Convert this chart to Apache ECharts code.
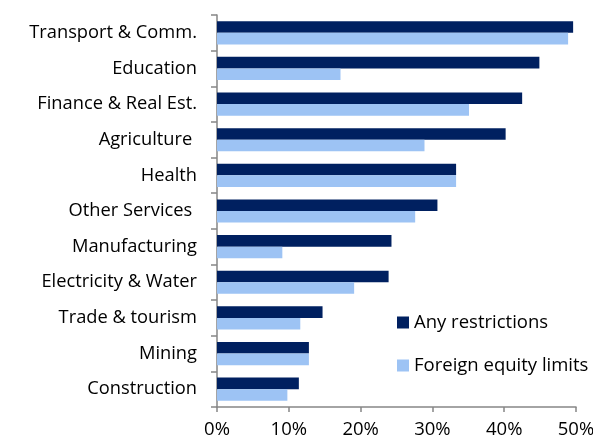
<!DOCTYPE html>
<html>
<head>
<meta charset="utf-8">
<script src="https://cdn.jsdelivr.net/npm/echarts@6/dist/echarts.min.js"></script>
<style>
  html, body { margin: 0; padding: 0; background: #fff; }
  #chart { width: 593px; height: 443px; }
</style>
</head>
<body>
<div id="chart"></div>
<script>
// sectors, top to bottom
const sectors = [
  'Transport & Comm.', 'Education', 'Finance & Real Est.', 'Agriculture ',
  'Health', 'Other Services ', 'Manufacturing', 'Electricity & Water',
  'Trade & tourism', 'Mining', 'Construction'
]
// share of measures, %
const anyRestrictions = [49.6, 44.9, 42.5, 40.2, 33.3, 30.7, 24.3, 23.9, 14.7, 12.8, 11.4]
const equityLimits = [48.9, 17.2, 35.1, 28.9, 33.3, 27.6, 9.1, 19.1, 11.6, 12.8, 9.8]

const fontFamily = 'Open Sans'
const axisColor = '#868686'

const chart = echarts.init(document.getElementById('chart'))

chart.setOption({
  animation: false,
  textStyle: { fontFamily: fontFamily },
  grid: { left: 217, right: 17, top: 15, bottom: 36, outerBoundsMode: 'none' },
  legend: {
    orient: 'vertical',
    left: 392,
    top: 308,
    itemWidth: 12,
    itemHeight: 12,
    itemGap: 24,
    icon: 'rect',
    textStyle: { fontSize: 18.5, color: '#000', fontFamily: fontFamily },
    data: ['Any restrictions', 'Foreign equity limits']
  },
  xAxis: {
    type: 'value',
    min: 0,
    max: 50,
    interval: 10,
    axisLine: { show: true, lineStyle: { color: axisColor, width: 1.5 } },
    axisTick: { show: true, length: 5, lineStyle: { color: axisColor, width: 1.5 } },
    splitLine: { show: false },
    axisLabel: {
      formatter: '{value}%',
      fontSize: 18.5,
      color: '#000',
      margin: 13
    }
  },
  yAxis: {
    type: 'category',
    inverse: true,
    data: sectors,
    axisLine: { show: true, lineStyle: { color: axisColor, width: 1.5 } },
    axisTick: { show: true, length: 6, lineStyle: { color: axisColor, width: 1.5 } },
    axisLabel: { fontSize: 18.3, color: '#000', margin: 20 }
  },
  series: [
    {
      name: 'Any restrictions',
      type: 'bar',
      data: anyRestrictions,
      barGap: '0%',
      barCategoryGap: '35%',
      itemStyle: { color: '#002060' }
    },
    {
      name: 'Foreign equity limits',
      type: 'bar',
      data: equityLimits,
      itemStyle: { color: '#9DC3F4' }
    }
  ]
})
</script>
</body>
</html>
